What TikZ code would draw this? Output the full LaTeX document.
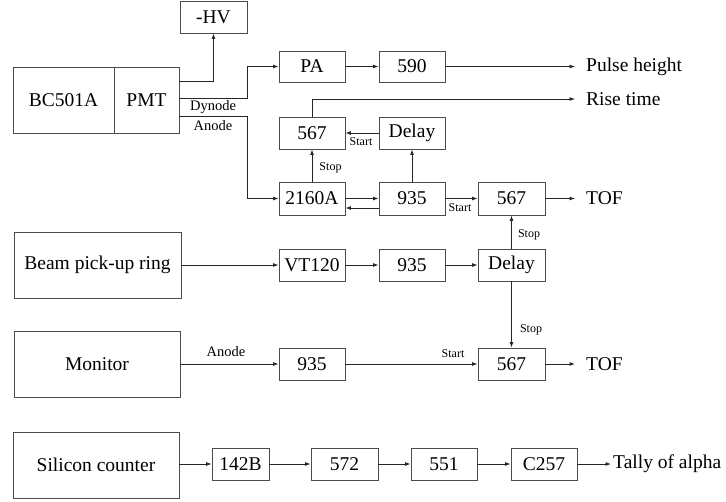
\documentclass[tikz,border=0pt]{standalone}
\usepackage{fontspec}
\setmainfont{Liberation Serif}
\newfontfamily\diagfont{Liberation Serif}
\usetikzlibrary{arrows.meta,calc}
\begin{document}
\begin{tikzpicture}[x=1pt,y=-1pt,
  box/.style={draw=black!70,line width=0.9pt,inner sep=0pt,font=\diagfont\fontsize{19.5}{20}\selectfont},
  arr/.style={draw=black!85,line width=0.9pt,-{Latex[length=5.5pt,width=4pt]}},
  outtxt/.style={anchor=west,inner xsep=11pt,inner ysep=0pt,font=\diagfont\fontsize{19.5}{20}\selectfont},
  sm/.style={font=\diagfont\fontsize{12}{12}\selectfont,inner sep=0pt},
  md/.style={font=\diagfont\fontsize{14.5}{15}\selectfont,inner sep=0pt}]
\useasboundingbox (0,0) rectangle (726,501);
% boxes
\node[box,minimum width=67,minimum height=32] (hv) at (213.5,17) {-HV};
\node[box,minimum width=101,minimum height=66] (bc) at (63.5,100) {BC501A};
\node[box,minimum width=65,minimum height=66] (pmt) at (146.5,100) {PMT};
\node[box,minimum width=66,minimum height=31] (pa) at (312,66.5) {PA};
\node[box,minimum width=66,minimum height=31] (n590) at (412,66.5) {590};
\node[box,minimum width=66,minimum height=32] (s567a) at (312,133) {567};
\node[box,minimum width=66,minimum height=32] (dla) at (412,133) {Delay};
\node[box,minimum width=66,minimum height=33] (a2160) at (312,198.5) {2160A};
\node[box,minimum width=66,minimum height=33] (n935a) at (412,198.5) {935};
\node[box,minimum width=67,minimum height=33] (s567b) at (511.5,198.5) {567};
\node[box,minimum width=167,minimum height=66] (beam) at (97.5,265) {Beam pick-up ring};
\node[box,minimum width=66,minimum height=32] (vt) at (312,265) {VT120};
\node[box,minimum width=66,minimum height=32] (n935b) at (412,265) {935};
\node[box,minimum width=67,minimum height=32] (dlb) at (511.5,265) {Delay};
\node[box,minimum width=166,minimum height=66] (mon) at (97,364) {Monitor};
\node[box,minimum width=66,minimum height=32] (n935c) at (312,364) {935};
\node[box,minimum width=67,minimum height=32] (s567c) at (511.5,364) {567};
\node[box,minimum width=166,minimum height=66] (si) at (96,465) {Silicon counter};
\node[box,minimum width=57,minimum height=32] (b142) at (240.5,464) {142B};
\node[box,minimum width=67,minimum height=32] (n572) at (344.5,464) {572};
\node[box,minimum width=66,minimum height=32] (n551) at (444,464) {551};
\node[box,minimum width=66,minimum height=32] (c257) at (544,464) {C257};
% output texts
\node[outtxt] (ph) at (575,66.5) {Pulse height};
\node[outtxt] (rt) at (575,99) {Rise time};
\node[outtxt] (tof1) at (575,198.5) {TOF};
\node[outtxt] (tof2) at (575,364) {TOF};
\node[outtxt,inner xsep=2pt] (tally) at (611,464) {Tally of alpha};
% connectors
\draw[arr] ($(pmt.north east)+(0,15)$) -| (hv.south);
\draw[arr] ($(pmt.north east)+(0,32)$) -- ++(68,0) |- (pa.west);
\draw[arr] ($(pmt.north east)+(0,50)$) -- ++(68,0) |- (a2160.west);
\draw[arr] (pa) -- (n590);
\draw[arr] (n590) -- (ph.west);
\draw[arr] (s567a.north) |- (rt.west);
\draw[arr] (a2160) -- (s567a);
\draw[arr] (dla) -- (s567a);
\draw[arr] (n935a) -- (dla);
\draw[arr] (a2160.east) -- (n935a.west);
\draw[arr] ($(n935a.west)+(0,9.5)$) -- ($(a2160.east)+(0,9.5)$);
\draw[arr] (n935a) -- (s567b);
\draw[arr] (s567b) -- (tof1.west);
\draw[arr] (dlb) -- (s567b);
\draw[arr] (beam) -- (vt);
\draw[arr] (vt) -- (n935b);
\draw[arr] (n935b) -- (dlb);
\draw[arr] (dlb) -- (s567c);
\draw[arr] (mon) -- (n935c);
\draw[arr] (n935c) -- (s567c);
\draw[arr] (s567c) -- (tof2.west);
\draw[arr] (si.east |- b142.west) -- (b142.west);
\draw[arr] (b142) -- (n572);
\draw[arr] (n572) -- (n551);
\draw[arr] (n551) -- (c257);
\draw[arr] (c257) -- (tally.west);
% labels
\node[md] (ldyn) at (213,107) {Dynode};
\node[md] (lan1) at (213,126) {Anode};
\node[sm] (lstop1) at (330.5,168) {Stop};
\node[sm] (lstart1) at (361,142) {Start};
\node[sm] (lstart2) at (460,208) {Start};
\node[sm] (lstop2) at (529,235) {Stop};
\node[sm] (lstop3) at (531,330) {Stop};
\node[sm] (lstart3) at (453,354) {Start};
\node[md] (lan2) at (226,352) {Anode};
\end{tikzpicture}
\end{document}
